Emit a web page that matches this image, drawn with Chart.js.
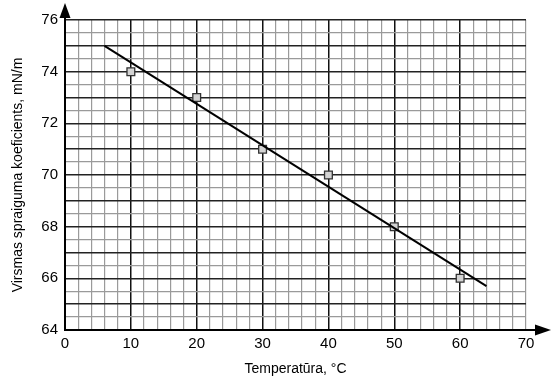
<!DOCTYPE html>
<html>
<head>
<meta charset="utf-8">
<script src="https://cdn.jsdelivr.net/npm/chart.js@4.4.0/dist/chart.umd.min.js"></script>
<style>
  html, body { margin: 0; padding: 0; background: #fff; }
  #wrap { width: 554px; height: 381px; }
</style>
</head>
<body>
<div id="wrap"><canvas id="chart"></canvas></div>
<script>
// Mērījumi
const temps = [10, 20, 30, 40, 50, 60];
const tension = [74, 73, 71, 70, 68, 66];
// Aproksimācijas taisne (sākums un beigas)
const fitX = [6, 64];
const fitY = [75, 65.7];

const xLabels = [0, 10, 20, 30, 40, 50, 60, 70];
const yLabels = [64, 66, 68, 70, 72, 74, 76];

// Bultiņas uz asīm
const arrowPlugin = {
    id: 'arrows',
    afterDraw(chart) {
        const { ctx, chartArea: a } = chart;
        ctx.save();
        ctx.strokeStyle = '#000';
        ctx.fillStyle = '#000';
        ctx.lineWidth = 2;
        ctx.beginPath();
        ctx.moveTo(a.left, a.top);
        ctx.lineTo(a.left, a.top - 4);
        ctx.moveTo(a.right, a.bottom);
        ctx.lineTo(a.right + 10, a.bottom);
        ctx.stroke();
        // augšējā bulta
        ctx.beginPath();
        ctx.moveTo(a.left, a.top - 17);
        ctx.lineTo(a.left - 5.5, a.top - 2);
        ctx.lineTo(a.left + 5.5, a.top - 2);
        ctx.closePath();
        ctx.fill();
        // labā bulta
        ctx.beginPath();
        ctx.moveTo(a.right + 25, a.bottom);
        ctx.lineTo(a.right + 9, a.bottom - 5.5);
        ctx.lineTo(a.right + 9, a.bottom + 5.5);
        ctx.closePath();
        ctx.fill();
        ctx.restore();
    }
};

const ctx = document.getElementById('chart').getContext('2d');
Chart.defaults.font.family = '"Liberation Sans", Arial, sans-serif';
Chart.defaults.color = '#000';

new Chart(ctx, {
    type: 'scatter',
    data: {
        datasets: [{
            type: 'line',
            data: fitX.map((x, i) => ({ x: x, y: fitY[i] })),
            borderColor: '#000',
            borderWidth: 2,
            pointRadius: 0,
            fill: false
        }, {
            data: temps.map((t, i) => ({ x: t, y: tension[i] })),
            pointStyle: 'rect',
            pointRadius: 5.5,
            backgroundColor: '#d3d3d3',
            borderColor: '#333',
            borderWidth: 1.3
        }]
    },
    options: {
        responsive: true,
        maintainAspectRatio: false,
        animation: false,
        layout: { padding: { top: 20, right: 28, bottom: 3, left: 10 } },
        plugins: { legend: { display: false }, tooltip: { enabled: false } },
        scales: {
            x: {
                type: 'linear',
                min: 0, max: 70,
                afterFit: s => { s.height = 48; },
                ticks: {
                    stepSize: 2,
                    autoSkip: false,
                    maxRotation: 0,
                    font: { size: 15 },
                    padding: 5,
                    callback: v => xLabels.includes(v) ? String(v) : ''
                },
                grid: {
                    drawTicks: false,
                    color: c => c.tick.value % 10 === 0 && c.tick.value !== 70 ? '#111' : '#9a9a9a',
                    lineWidth: c => c.tick.value % 10 === 0 && c.tick.value !== 70 ? 1.5 : 1.2
                },
                border: { color: '#000', width: 2 },
                title: { display: true, text: 'Temperatūra, °C', font: { size: 14 }, padding: { top: 3, bottom: 0 } }
            },
            y: {
                type: 'linear',
                min: 64, max: 76,
                afterFit: s => { s.width = 55; },
                ticks: {
                    stepSize: 0.5,
                    autoSkip: false,
                    font: { size: 15 },
                    padding: 7,
                    callback: v => yLabels.includes(v) ? String(v) : ''
                },
                grid: {
                    drawTicks: false,
                    color: c => Number.isInteger(c.tick.value) ? '#222' : '#9a9a9a',
                    lineWidth: c => Number.isInteger(c.tick.value) ? 1.5 : 1.2
                },
                border: { color: '#000', width: 2 },
                title: { display: true, text: 'Virsmas spraiguma koeficients, mN/m', font: { size: 14 }, padding: { top: 0, bottom: 2 } }
            }
        }
    },
    plugins: [arrowPlugin]
});
</script>
</body>
</html>
